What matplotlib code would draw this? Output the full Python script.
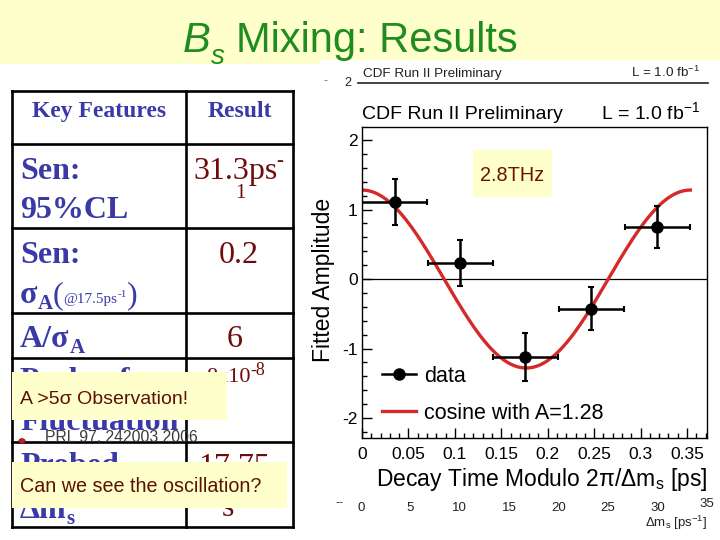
import matplotlib
matplotlib.use('Agg')
import matplotlib.pyplot as plt
from matplotlib.patches import Rectangle, Circle
from matplotlib.lines import Line2D
from matplotlib.ticker import MultipleLocator, FixedLocator
import numpy as np

plt.rcParams['font.family'] = ['Liberation Sans', 'DejaVu Sans']
plt.rcParams['mathtext.fontset'] = 'custom'
plt.rcParams['mathtext.rm'] = 'Liberation Sans'
plt.rcParams['mathtext.it'] = 'Liberation Sans:italic'
plt.rcParams['mathtext.bf'] = 'Liberation Sans:bold'

# ---------------- data ----------------
bin_centers = [0.035, 0.106, 0.176, 0.247, 0.318]
bin_halfwidths = [0.035, 0.035, 0.035, 0.035, 0.035]
amplitudes = [1.11, 0.23, -1.12, -0.43, 0.75]
amp_errors = [0.33, 0.33, 0.34, 0.31, 0.30]
cos_amplitude = 1.28
delta_ms = 17.77  # ps^-1
x_ticks = [0, 0.05, 0.1, 0.15, 0.2, 0.25, 0.3, 0.35]
x_tick_labels = ['0', '0.05', '0.1', '0.15', '0.2', '0.25', '0.3', '0.35']
y_ticks = [-2, -1, 0, 1, 2]
y_tick_labels = ['-2', '-1', '0', '1', '2']
scan_ticks = [0, 5, 10, 15, 20, 25, 30, 35]

title_main = 'B'
title_sub = 's'
title_rest = 'Mixing: Results'
table_header = ['Key Features', 'Result']
callout_1 = 'A >5\u03c3 Observation!'
callout_2 = 'Can we see the oscillation?'
reference_text = 'PRL 97, 242003 2006'
freq_label = '2.8THz'

W, H = 720, 540
fig = plt.figure(figsize=(7.2, 5.4), dpi=100)
fig.patch.set_facecolor('white')
r = fig.canvas.get_renderer()

SERIF = 'Liberation Serif'
BLUE = '#3a3aa6'
DRED = '#6e0c0c'
GREEN = '#1e8c1e'
YEL = '#ffffcc'
CTXT = '#5c1206'


def fx(x):
    return x / W


def fy(y):
    return 1 - y / H


def txt(x, y, s, **kw):
    kw.setdefault('va', 'baseline')
    return fig.text(fx(x), fy(y), s, **kw)


def rect(x0, y0, x1, y1, **kw):
    fig.patches.append(Rectangle((fx(x0), fy(y1)), (x1 - x0) / W, (y1 - y0) / H,
                                 transform=fig.transFigure, **kw))


def line(xs, ys, **kw):
    fig.lines.append(Line2D([fx(v) for v in xs], [fy(v) for v in ys],
                            transform=fig.transFigure, **kw))


def seq(x, y, parts, z=3):
    for s, size, dy, props in parts:
        t = txt(x, y + dy, s, fontsize=size, ha='left', zorder=z, **props)
        x += t.get_window_extent(r).width
    return x


# ---------------- slide background ----------------
rect(0, 0, 320, 64, facecolor=YEL, edgecolor='none', zorder=0)
rect(320, 0, 720, 60, facecolor=YEL, edgecolor='none', zorder=0)

# title
seq(183, 52, [(title_main, 30, 0, dict(color=GREEN, style='italic')),
              (title_sub, 20, 12, dict(color=GREEN, style='italic'))])
txt(236, 52, title_rest, fontsize=30, color=GREEN, ha='left')

# ---------------- table ----------------
bs = dict(color=BLUE, family=SERIF, weight='bold')
rs = dict(color=DRED, family=SERIF)
txt(99, 117, table_header[0], fontsize=17, ha='center', **bs)
txt(240, 117, table_header[1], fontsize=17, ha='center', **bs)

txt(20, 179, 'Sen:', fontsize=23, **bs)
txt(20, 218, '95%CL', fontsize=23, **bs)
txt(236, 179, '31.3ps', fontsize=23, ha='center', **rs)
txt(280, 166, '-', fontsize=15, ha='center', **rs)
txt(240, 198, '1', fontsize=15, ha='center', **rs)

txt(20, 263, 'Sen:', fontsize=23, **bs)
seq(20, 303, [('\u03c3', 23, 0, bs),
              ('A', 15, 6, bs),
              ('(', 23, 0, dict(color=BLUE, family=SERIF)),
              ('@17.5ps', 11, 0, dict(color=BLUE, family=SERIF)),
              ('-1', 8, -6, dict(color=BLUE, family=SERIF)),
              (')', 23, 0, dict(color=BLUE, family=SERIF))])
txt(239, 263, '0.2', fontsize=23, ha='center', **rs)

seq(20, 347, [('A/\u03c3', 23, 0, bs), ('A', 15, 6, bs)])
txt(235, 347, '6', fontsize=23, ha='center', **rs)

txt(20, 389, 'Prob. of', fontsize=23, **bs)
txt(20, 430, 'Fluctuation', fontsize=23, **bs)
seq(206, 382, [('8x10', 16, 0, rs), ('-8', 13, -7, rs)])

txt(20, 474, 'Probed', fontsize=23, **bs)
seq(20, 518, [('\u0394m', 23, 0, bs), ('s', 15, 6, bs)])
txt(234, 475, '17.75', fontsize=23, ha='center', **rs)
txt(228, 516, 's', fontsize=23, ha='center', **rs)

lw_t = 1.9
for yy in [91, 144, 228, 313, 358, 442, 527]:
    line([12, 293], [yy, yy], color='black', lw=lw_t, zorder=4)
for xx in [12, 186, 293]:
    line([xx, xx], [91, 527], color='black', lw=lw_t, zorder=4)

# callouts
rect(12, 372, 227, 420, facecolor=YEL, edgecolor='none', zorder=5)
txt(20, 404, callout_1, fontsize=14, color=CTXT, zorder=6)
rect(12, 462, 287, 508, facecolor=YEL, edgecolor='none', zorder=5)
txt(20, 492, callout_2, fontsize=14.2, color=CTXT, zorder=6)

# reference bullet
fig.patches.append(Circle((fx(22), fy(441)), 3.2 / W, transform=fig.transFigure,
                          facecolor='#c81e1e', edgecolor='#801010', lw=0.5, zorder=7))
txt(45, 442, reference_text, fontsize=11.3, color='#3a3a3a', zorder=7)

# ---------------- remnant of background plot ----------------
txt(363, 77, 'CDF Run II Preliminary', fontsize=9.7, color='#222222')
txt(700, 77, 'L = 1.0 fb$^{-1}$', fontsize=9.7, color='#222222', ha='right')
line([358, 708], [83, 83], color='#222222', lw=1.2)
txt(348, 86, '2', fontsize=9, color='#222222', ha='center')
txt(326, 84, '-', fontsize=9, color='#777777', ha='center')
for v in scan_ticks:
    xx = 361 + v * (707 - 361) / 35.0
    txt(xx, 511 if v != 35 else 507, str(v), fontsize=9.5, color='#222222', ha='center')
txt(340, 506, '--', fontsize=9, color='#333333', ha='center')
txt(707, 527, '\u0394m$_\\mathrm{s}$ [ps$^{-1}$]', fontsize=9.5, color='#222222', ha='right')

# ---------------- main plot ----------------
ax_l, ax_r, ax_t, ax_b = 362, 707, 127, 438
ax = fig.add_axes([ax_l / W, 1 - ax_b / H, (ax_r - ax_l) / W, (ax_b - ax_t) / H])
ax.set_facecolor('white')
ax.set_xlim(0, 0.3715)
ax.set_ylim(-2.287, 2.187)

tt = np.linspace(0, 2 * np.pi / delta_ms, 400)
curve, = ax.plot(tt, cos_amplitude * np.cos(delta_ms * tt), color='#d42a2a', lw=2.4,
                 zorder=2, label='cosine with A=1.28')
ax.errorbar(bin_centers, amplitudes, xerr=bin_halfwidths, yerr=amp_errors, fmt='o',
            color='black', ms=8, elinewidth=1.8, capsize=2.5, capthick=1.5, zorder=3)
ax.axhline(0, color='black', lw=0.9, zorder=1)

ax.xaxis.set_major_locator(FixedLocator(x_ticks))
ax.set_xticklabels(x_tick_labels)
ax.xaxis.set_minor_locator(MultipleLocator(0.01))
ax.yaxis.set_major_locator(FixedLocator(y_ticks))
ax.set_yticklabels(y_tick_labels)
ax.yaxis.set_minor_locator(MultipleLocator(0.2))
ax.tick_params(which='both', direction='in', top=False, right=False, width=1.0)
ax.tick_params(which='major', length=7.2, labelsize=12.5)
ax.tick_params(axis='x', which='major', pad=6.5)
ax.tick_params(axis='y', which='major', pad=3)
ax.tick_params(which='minor', length=3.6)
for sp in ax.spines.values():
    sp.set_linewidth(1.0)

ax.set_ylabel('Fitted Amplitude', fontsize=16.5)
ax.yaxis.set_label_coords((335 - ax_l) / (ax_r - ax_l), (ax_b - 280) / (ax_b - ax_t))

data_handle = Line2D([], [], color='black', marker='o', ms=8, lw=1.8)
leg = ax.legend([data_handle, curve], ['data', 'cosine with A=1.28'], loc='lower left',
                bbox_to_anchor=((382 - ax_l) / (ax_r - ax_l), (ax_b - 424) / (ax_b - ax_t)),
                frameon=False, fontsize=15.5, handlelength=1.6, handletextpad=0.37,
                labelspacing=0.75, borderpad=0, borderaxespad=0)

txt(707, 486, 'Decay Time Modulo 2\u03c0/\u0394m$_\\mathrm{s}$ [ps]', fontsize=16.5, ha='right')
txt(362, 119, 'CDF Run II Preliminary', fontsize=14)
txt(700, 119, 'L = 1.0 fb$^{-1}$', fontsize=14, ha='right')

# 2.8THz label
rect(473, 150, 552, 197, facecolor=YEL, edgecolor='none', zorder=8)
txt(512, 181, freq_label, fontsize=14.3, ha='center', color='#6a1500', zorder=9)

fig.savefig('out.png', dpi=100)
